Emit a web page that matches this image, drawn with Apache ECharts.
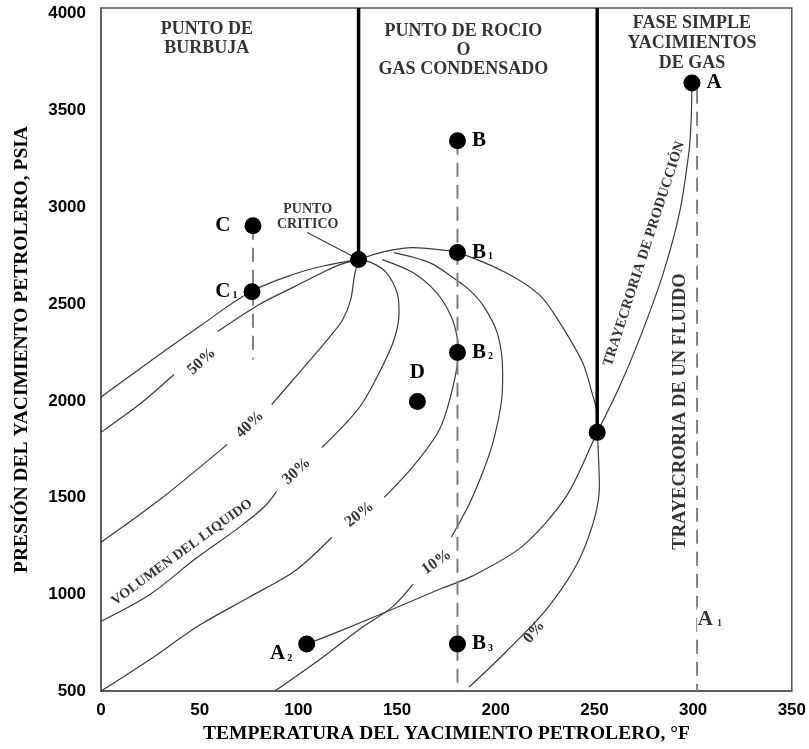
<!DOCTYPE html>
<html>
<head>
<meta charset="utf-8">
<script src="https://cdn.jsdelivr.net/npm/echarts@6/dist/echarts.min.js"></script>
<style>
  html, body { margin: 0; padding: 0; background: #fff; }
  #chart { width: 809px; height: 749px; }
</style>
</head>
<body>
<div id="chart"></div>
<script>
  // temperatura (°F), presion (psia)
  const xTicks = [0, 50, 100, 150, 200, 250, 300, 350]
  const yTicks = [500, 1000, 1500, 2000, 2500, 3000, 3500, 4000]

  const bubble = [[0, 2020], [25, 2205], [50, 2385], [76, 2564], [100, 2662], [116, 2704], [130.5, 2730]]
  const pct50 = [
    [[0, 1837], [20, 1986], [37, 2136]],
    [[59, 2358], [80, 2497], [98, 2590], [111, 2657], [121, 2704], [130.5, 2730]]
  ]
  const pct40 = [
    [[0, 1269], [30, 1491], [64, 1775]],
    [[86.5, 1981], [101, 2152], [116, 2332], [122.5, 2420], [126.5, 2523], [128.5, 2652], [130.5, 2730]]
  ]
  const pct30 = [
    [[0, 861], [25, 1001], [47.5, 1181], [70, 1346], [83, 1455], [89, 1532]],
    [[112, 1759], [123.5, 1878], [132, 1981], [141, 2146], [148.5, 2317], [151, 2456], [150, 2559], [144.5, 2663], [137, 2714], [130.5, 2730]]
  ]
  const pct20 = [
    [[0, 500], [25, 665], [50, 841], [75, 985], [98, 1119], [117, 1295]],
    [[143.5, 1501], [159, 1672], [171.5, 1852], [178, 2059], [181, 2250], [180.5, 2327], [177.5, 2435], [170, 2559], [158, 2663], [142.5, 2730]]
  ]
  const pct10 = [
    [[88, 500], [111, 665], [131, 820], [147.5, 934], [158, 1052]],
    [[177.5, 1295], [186.5, 1465], [194, 1646], [199, 1801], [203, 2007], [203.5, 2146], [201, 2343], [194, 2487], [186.5, 2575], [179, 2632], [166.5, 2714], [148.5, 2766]]
  ]
  const dew = [[130.5, 2730], [143.5, 2771], [158, 2792], [171.5, 2781], [181, 2766], [205, 2663], [222, 2549], [230.5, 2435], [244, 2198], [249, 2033], [251, 1955], [251.5, 1837], [252.5, 1558], [244, 1217], [227, 939], [205, 701], [186.5, 521]]
  const production = [[299.4, 3643], [299, 3452], [298, 3297], [293, 2967], [284.3, 2642], [272.5, 2311], [262.5, 2069], [251.4, 1837], [235.7, 1506], [213.4, 1248], [188, 1094], [171.5, 1026], [147.7, 923], [121, 810], [104.2, 743]]

  const criticLine = [[130.5, 4030], [130.5, 2730]]
  const cricondenLine = [[251.4, 4030], [251.4, 1837]]
  const leader = [[104.5, 2870], [128, 2745]]

  const pathC = [[77, 2905], [77, 2213]]
  const pathB = [[180.6, 3344], [180.6, 500]]
  const pathA1 = [[302, 3607], [302, 500]]

  // puntos: [T, P, etiqueta, posicion]
  const points = [
    [299.4, 3643, '{m|A}', 'right'],
    [180.6, 3344, '{m|B}', 'right'],
    [180.6, 2766, '{m|B}{s|1}', 'right'],
    [180.6, 2250, '{m|B}{s|2}', 'right'],
    [180.6, 743, '{m|B}{s|3}', 'right'],
    [77, 2905, '{m|C}', 'left'],
    [76.5, 2564, '{m|C}{s|1}', 'left'],
    [160.3, 1997, '{m|D}', 'top'],
    [104.2, 743, '{m|A}{s|2}', 'left'],
    [130.5, 2730, '', 'top'],
    [251.4, 1837, '', 'top']
  ]

  const pctLabels = [
    [51, 2203, '50%', 42],
    [75.4, 1878, '40%', 44],
    [99.1, 1636, '30%', 42],
    [131, 1413, '20%', 38],
    [170, 1166, '10%', 35],
    [219.5, 805, '0%', 50]
  ]

  const serif = '"Liberation Serif", "DejaVu Serif", serif'

  const notes = [
    { value: [53.6, 3870], text: 'PUNTO DE\nBURBUJA', size: 18, rot: 0, lh: 19 },
    { value: [183.6, 3813], text: 'PUNTO DE ROCIO\nO\nGAS CONDENSADO', size: 18, rot: 0, lh: 19 },
    { value: [299.4, 3849], text: 'FASE SIMPLE\nYACIMIENTOS\nDE GAS', size: 18, rot: 0, lh: 20 },
    { value: [104.7, 2951], text: 'PUNTO\nCRITICO', size: 14, rot: 0, lh: 15 },
    { value: [41, 1217], text: 'VOLUMEN DEL LIQUIDO', size: 14, rot: 36, lh: 16 },
    { value: [275.2, 2760], text: 'TRAYECRORIA DE PRODUCCIÓN', size: 14.5, rot: 72, lh: 16 },
    { value: [293.5, 1945], text: 'TRAYECRORIA DE UN FLUIDO', size: 18.5, rot: 90, lh: 20 }
  ]

  const chart = echarts.init(document.getElementById('chart'))

  const curveStyle = { color: '#3c3c3c', width: 1.2 }
  const series = []

  function addLine (data, style, smooth, z) {
    series.push({
      type: 'line',
      data: data,
      smooth: smooth,
      symbol: 'none',
      silent: true,
      animation: false,
      lineStyle: style,
      z: z
    })
  }

  addLine(bubble, curveStyle, 0.4, 2)
  for (let curve of [pct50, pct40, pct30, pct20, pct10]) {
    for (let seg of curve) {
      addLine(seg, curveStyle, 0.3, 2)
    }
  }
  addLine(dew, curveStyle, 0.3, 2)
  addLine(production, curveStyle, 0.3, 2)
  addLine(leader, curveStyle, false, 2)

  const dashStyle = { color: '#808080', width: 2, type: [14, 8] }
  addLine(pathC, dashStyle, false, 2)
  addLine(pathB, dashStyle, false, 2)
  addLine(pathA1, dashStyle, false, 2)

  const thick = { color: '#000', width: 3.5 }
  addLine(criticLine, thick, false, 3)
  addLine(cricondenLine, thick, false, 3)

  const richMark = {
    m: { fontFamily: serif, fontWeight: 'bold', fontSize: 21, color: '#000' },
    s: { fontFamily: serif, fontWeight: 'bold', fontSize: 10, color: '#000', padding: [8, 0, 0, 2] }
  }

  series.push({
    type: 'scatter',
    symbol: 'circle',
    symbolSize: 17,
    itemStyle: { color: '#000', opacity: 1 },
    silent: true,
    z: 5,
    data: points.map(p => ({
      value: [p[0], p[1]],
      label: {
        show: p[2] !== '',
        position: p[3],
        distance: p[3] === 'top' ? 10 : (p[2] === '{m|C}' ? 14 : 6),
        offset: p[2] === '{m|A}{s|2}' ? [0, 10] : [0, 0],
        formatter: p[2],
        rich: richMark
      }
    }))
  })

  series.push({
    type: 'scatter',
    symbolSize: 1,
    itemStyle: { color: 'rgba(0,0,0,0)' },
    silent: true,
    z: 6,
    data: pctLabels.map(p => ({
      value: [p[0], p[1]],
      label: {
        show: true,
        position: 'inside',
        formatter: p[2],
        rotate: p[3],
        fontFamily: serif,
        fontWeight: 'bold',
        fontSize: 16,
        color: '#000'
      }
    }))
  })

  series.push({
    type: 'scatter',
    symbolSize: 1,
    itemStyle: { color: 'rgba(0,0,0,0)' },
    silent: true,
    z: 6,
    data: notes.map(n => ({
      value: n.value,
      label: {
        show: true,
        position: 'inside',
        formatter: n.text,
        rotate: n.rot,
        align: 'center',
        fontFamily: serif,
        fontWeight: 'bold',
        fontSize: n.size,
        lineHeight: n.lh,
        color: '#000'
      }
    })).concat([{
      value: [308.5, 872],
      label: {
        show: true,
        position: 'inside',
        formatter: '{m|A}{s|1}',
        backgroundColor: '#fff',
        padding: [2, 1],
        rich: {
          m: richMark.m,
          s: { fontFamily: serif, fontWeight: 'bold', fontSize: 10, color: '#000', padding: [8, 0, 0, 4] }
        }
      }
    }])
  })

  const option = {
    animation: false,
    backgroundColor: '#fff',
    grid: {
      left: 101,
      right: 16,
      top: 8,
      bottom: 57,
      show: true,
      borderColor: '#555',
      borderWidth: 1.5
    },
    xAxis: {
      type: 'value',
      min: xTicks[0],
      max: xTicks[xTicks.length - 1],
      interval: 50,
      name: 'TEMPERATURA DEL YACIMIENTO PETROLERO, °F',
      nameLocation: 'middle',
      nameGap: 31,
      nameTextStyle: { fontFamily: serif, fontWeight: 'bold', fontSize: 19.5, color: '#000' },
      axisLine: { lineStyle: { color: '#555', width: 1.5 } },
      axisTick: { show: false },
      splitLine: { show: false },
      axisLabel: {
        margin: 11,
        fontFamily: '"Liberation Sans", Arial, sans-serif',
        fontWeight: 'bold',
        fontSize: 17,
        color: '#000'
      }
    },
    yAxis: {
      type: 'value',
      min: yTicks[0],
      max: 4030,
      interval: 500,
      name: 'PRESIÓN DEL YACIMIENTO PETROLERO, PSIA',
      nameLocation: 'middle',
      nameGap: 69,
      nameRotate: 90,
      nameTextStyle: { fontFamily: serif, fontWeight: 'bold', fontSize: 19.5, color: '#000' },
      axisLine: { show: true, lineStyle: { color: '#555', width: 1.5 } },
      axisTick: { show: false },
      splitLine: { show: false },
      axisLabel: {
        margin: 15,
        fontFamily: '"Liberation Sans", Arial, sans-serif',
        fontWeight: 'bold',
        fontSize: 17,
        color: '#000',
        formatter: v => (yTicks.indexOf(v) >= 0 ? String(v) : '')
      }
    },
    series: series
  }

  chart.setOption(option)
</script>
</body>
</html>
